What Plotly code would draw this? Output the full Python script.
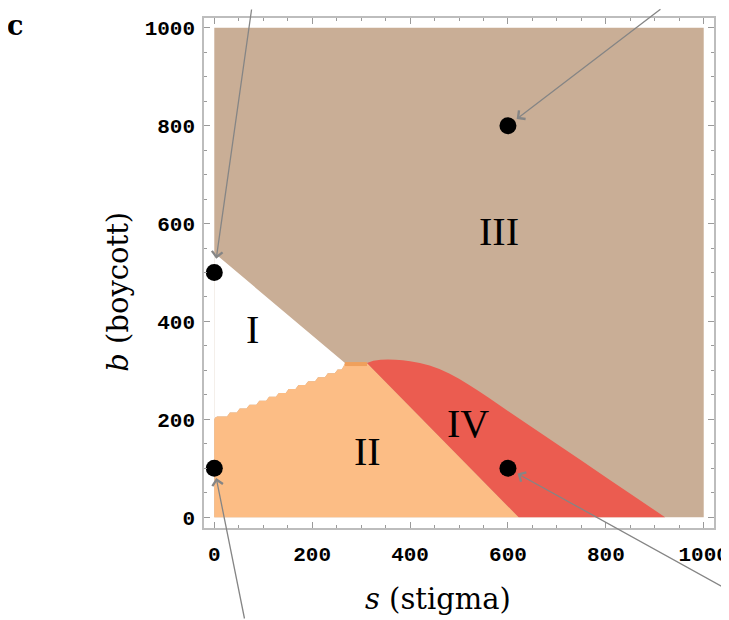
import plotly.graph_objects as go

# ---------------- data ----------------
s_extent = [0, 1000]
b_extent = [0, 1000]

# boundary between region I (white) and region III (tan)
bound_I_III_s = [0, 267]
bound_I_III_b = [540, 315]

# scalloped top edge of region II (from s=0 up to the junction)
II_top_s = [0, 2, 6, 26, 29, 32, 46, 49, 52, 66, 69, 72, 86, 89, 92, 106, 109, 112,
            126, 129, 132, 146, 149, 152, 166, 169, 172, 186, 189, 192, 206, 209, 212,
            226, 229, 232, 246, 249, 252, 260, 264, 267]
II_top_b = [200, 204, 206, 206, 210, 214, 214, 218, 222, 222, 226, 230, 230, 234, 238,
            238, 242, 246, 246, 250, 254, 254, 258, 262, 262, 266, 270, 270, 274, 278,
            278, 282, 286, 286, 290, 294, 294, 298, 302, 302, 308, 315]

# short plateau at the junction of I, II, III, IV
plateau_s = [267, 312]
plateau_b = [313, 313]

# boundary between region II and region IV
bound_II_IV_s = [312, 622]
bound_II_IV_b = [315, 0]

# boundary between region IV and region III
bound_IV_III_s = [312, 325, 340, 355, 370, 385, 400, 420, 440, 460, 480, 500, 520,
                  540, 560, 600, 650, 700, 750, 800, 850, 900, 921]
bound_IV_III_b = [315, 319.5, 322, 322.5, 321.9, 320.7, 318.8, 315.1, 309.9, 302.9,
                  293.9, 283.1, 270.9, 257.8, 244.4, 217.3, 183.5, 149.6, 115.8, 81.9,
                  48.1, 14.2, 0]

# marked points
pts_s = [0, 600, 0, 600]
pts_b = [500, 800, 100, 100]

# region labels
label_text = ["I", "II", "III", "IV"]
label_s = [78, 314, 581, 519]
label_b = [383, 135, 584, 192]

tick_vals = [0, 200, 400, 600, 800, 1000]
tick_text = ["0", "200", "400", "600", "800", "1000"]

# ---------------- styles ----------------
TAN = "#C9AE96"
ORANGE = "#FCBD85"
RED = "#EB5C50"
PLATEAU = "#EFA05C"
ARROW = "#858585"

fig = go.Figure()

# region III background (whole square)
fig.add_trace(go.Scatter(
    x=[s_extent[0], s_extent[1], s_extent[1], s_extent[0]],
    y=[b_extent[0], b_extent[0], b_extent[1], b_extent[1]],
    fill="toself", fillcolor=TAN, mode="none", hoverinfo="skip"))

# region I (white)
I_s = bound_I_III_s + II_top_s[::-1]
I_b = bound_I_III_b + II_top_b[::-1]
fig.add_trace(go.Scatter(x=I_s, y=I_b, fill="toself", fillcolor="white",
                         mode="none", hoverinfo="skip"))

# region II (orange)
II_s = [0] + II_top_s + bound_II_IV_s
II_b = [0] + II_top_b + bound_II_IV_b
fig.add_trace(go.Scatter(x=II_s, y=II_b, fill="toself", fillcolor=ORANGE,
                         mode="none", hoverinfo="skip"))

# region IV (red)
IV_s = bound_IV_III_s + bound_II_IV_s[::-1]
IV_b = bound_IV_III_b + bound_II_IV_b[::-1]
fig.add_trace(go.Scatter(x=IV_s, y=IV_b, fill="toself", fillcolor=RED,
                         mode="none", hoverinfo="skip"))

# plateau segment
fig.add_trace(go.Scatter(x=plateau_s, y=plateau_b, mode="lines",
                         line=dict(color=PLATEAU, width=4), hoverinfo="skip"))

# points
fig.add_trace(go.Scatter(x=pts_s, y=pts_b, mode="markers",
                         marker=dict(color="black", size=17), hoverinfo="skip"))

# region labels
for t, xs, yb in zip(label_text, label_s, label_b):
    fig.add_annotation(x=xs, y=yb, text=t, showarrow=False,
                       font=dict(family="Liberation Serif", size=40, color="black"))

# arrows pointing at the marked points (tails outside the frame)
arrow_ax = [37.5, 154, 30.5, 221]
arrow_ay = [-277, -128, 152, 122]
arrow_standoff = [14, 11, 10, 11]
for xs, yb, ax, ay, so in zip(pts_s, pts_b, arrow_ax, arrow_ay, arrow_standoff):
    fig.add_annotation(x=xs, y=yb, ax=ax, ay=ay, text="", showarrow=True,
                       arrowhead=4, arrowsize=1.6, arrowwidth=1.3,
                       arrowcolor=ARROW, standoff=so)

# panel letter and axis titles
fig.add_annotation(xref="paper", yref="paper", x=-0.371, y=1.0196, text="<b>c</b>",
                   showarrow=False, xanchor="center", yanchor="top",
                   font=dict(family="DejaVu Serif", size=27, color="black"))
fig.add_annotation(xref="paper", yref="paper", x=-0.169, y=0.463,
                   text="<i>b</i> (boycott)", textangle=-90, showarrow=False,
                   xanchor="center", yanchor="middle",
                   font=dict(family="DejaVu Serif", size=29, color="black"))
fig.add_annotation(xref="paper", yref="paper", x=0.459, y=-0.139,
                   text="<i>s</i> (stigma)", showarrow=False,
                   xanchor="center", yanchor="middle",
                   font=dict(family="DejaVu Serif", size=29, color="black"))

axis_common = dict(
    tickvals=tick_vals, ticktext=tick_text, ticks="inside", ticklen=6,
    tickcolor="#9A9A9A", tickwidth=1, showline=True, linecolor="#BDBDBD",
    linewidth=1.5, mirror="ticks", showgrid=False, zeroline=False,
    tickfont=dict(family="Liberation Mono", size=21, color="black", weight="bold"),
    minor=dict(ticks="inside", ticklen=3, tick0=0, dtick=50, tickcolor="#9A9A9A",
               showgrid=False),
    fixedrange=True, automargin=False,
)
fig.update_xaxes(range=[-21, 1021], ticklabelstandoff=6, **axis_common)
fig.update_yaxes(range=[-22, 1020], ticklabelstandoff=3, **axis_common)

# the page body adds an 8px margin, so the figure is 8px smaller and shifted
fig.update_layout(
    width=721, height=612,
    margin=dict(l=196, r=15, t=10, b=92, autoexpand=False),
    plot_bgcolor="white", paper_bgcolor="white",
    showlegend=False,
)

fig.write_html("out.html")
